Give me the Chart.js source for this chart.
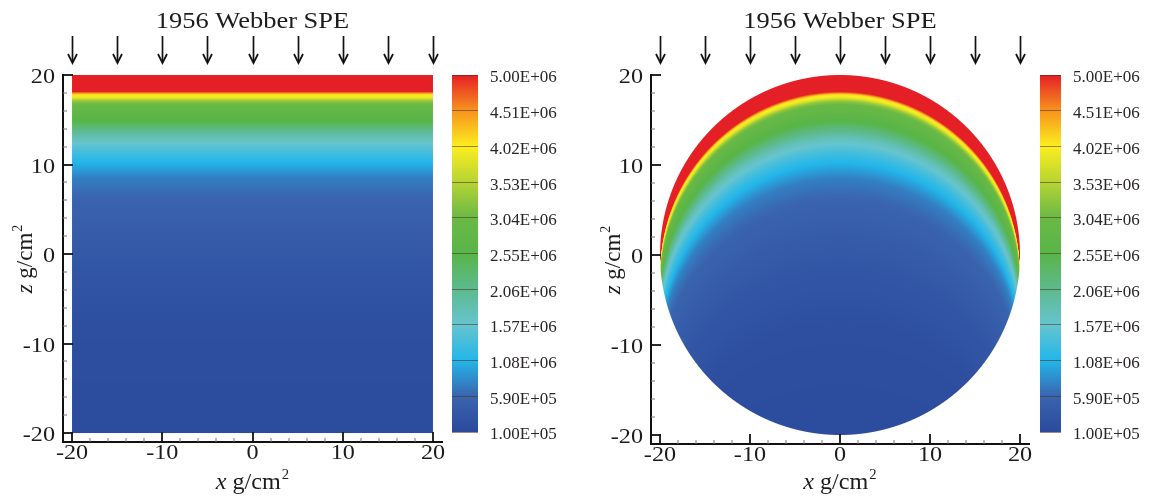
<!DOCTYPE html>
<html><head><meta charset="utf-8">
<script src="https://cdn.jsdelivr.net/npm/chart.js@4.4.1/dist/chart.umd.min.js"></script>
<style>
html,body{margin:0;padding:0;background:#fff;}
#wrap{position:relative;width:1153px;height:496px;overflow:hidden;background:#fff;}
canvas{position:absolute;top:0;}
</style></head><body>
<div id="wrap">
<canvas id="slab" width="445" height="496" style="left:0px;width:445px;height:496px"></canvas>
<canvas id="slabBar" width="130" height="496" style="left:440px;width:130px;height:496px"></canvas>
<canvas id="sphere" width="450" height="496" style="left:590px;width:450px;height:496px"></canvas>
<canvas id="sphereBar" width="125" height="496" style="left:1028px;width:125px;height:496px"></canvas>
</div>
<script>
// ---------------- data ----------------
const chartTitle = '1956 Webber SPE';
const xTickValues = [-20,-18,-16,-14,-12,-10,-8,-6,-4,-2,0,2,4,6,8,10,12,14,16,18,20];
const zTickValues = [-20,-18,-16,-14,-12,-10,-8,-6,-4,-2,0,2,4,6,8,10,12,14,16,18,20];
const majorTicks = [-20,-10,0,10,20];
const arrowX = [-20,-15,-10,-5,0,5,10,15,20];
const halfWidth = 20;      // g/cm2, slab half width / sphere radius
// depth below the irradiated top surface (g/cm2) and the dose read at that depth
const depthGcm2   = [0, 1.85, 2.0, 2.15, 2.55, 2.9, 3.3, 5.1, 7.0, 8.5, 9.9, 11.5, 14.1, 20.8, 27.5, 34, 40];
const doseProfile = [5.3e6, 5.0e6, 4.6e6, 4.15e6, 3.85e6, 3.3e6, 3.0e6, 2.55e6, 1.75e6, 1.35e6, 1.05e6, 7.5e5, 5.6e5, 3.5e5, 2.0e5, 1.5e5, 1.3e5];
// colour bar levels and colours
const cbLevels = [1.00e5, 5.90e5, 1.08e6, 1.57e6, 2.06e6, 2.55e6, 3.04e6, 3.53e6, 4.02e6, 4.51e6, 5.00e6];
const cbColors = ['#2b4a9c', '#3a64af', '#22b6ea', '#66c4cf', '#5dba8e', '#58b548', '#6ab945', '#b6d433', '#fcee1f', '#f7941d', '#e41f26'];

// ---------------- helpers ----------------
const SERIF = '"Liberation Serif", "Times New Roman", serif';
const INK = '#1e1b1c';
function hexToRgb(h){ return [parseInt(h.slice(1,3),16), parseInt(h.slice(3,5),16), parseInt(h.slice(5,7),16)]; }
const cbRgb = cbColors.map(hexToRgb);
function colorFor(v){
  const n = cbLevels.length;
  if (v <= cbLevels[0]) return cbRgb[0];
  if (v >= cbLevels[n-1]) return cbRgb[n-1];
  let i = 0; while (v > cbLevels[i+1]) i++;
  const t = (v - cbLevels[i]) / (cbLevels[i+1] - cbLevels[i]);
  return [0,1,2].map(k => Math.round(cbRgb[i][k] + (cbRgb[i+1][k] - cbRgb[i][k]) * t));
}
function doseAt(d){
  const n = depthGcm2.length;
  if (d <= depthGcm2[0]) return doseProfile[0];
  if (d >= depthGcm2[n-1]) return doseProfile[n-1];
  let i = 0; while (d > depthGcm2[i+1]) i++;
  const t = (d - depthGcm2[i]) / (depthGcm2[i+1] - depthGcm2[i]);
  return doseProfile[i] + (doseProfile[i+1] - doseProfile[i]) * t;
}
function fmtE(v){
  let e = Math.floor(Math.log10(v)); let m = v / Math.pow(10, e);
  if (Math.round(m*100) >= 1000) { e += 1; m = v / Math.pow(10, e); }
  return m.toFixed(2) + 'E+' + String(e).padStart(2, '0');
}
function stext(ctx, str, x, y, size, align, sx, baseline){
  ctx.save(); ctx.font = size + 'px ' + SERIF; ctx.fillStyle = INK;
  ctx.translate(x, y); ctx.scale(sx, 1);
  ctx.textAlign = align; ctx.textBaseline = baseline || 'alphabetic';
  ctx.fillText(str, 0, 0); ctx.restore();
}
function unitLabel(ctx, name, size){
  const fI = 'italic ' + size + 'px ' + SERIF, fR = size + 'px ' + SERIF, fS = Math.round(size*0.6) + 'px ' + SERIF;
  ctx.fillStyle = INK; ctx.textAlign = 'left'; ctx.textBaseline = 'alphabetic';
  ctx.font = fI; const w1 = ctx.measureText(name).width;
  ctx.font = fR; const w2 = ctx.measureText(' g/cm').width;
  ctx.font = fS; const w3 = ctx.measureText('2').width;
  let x = -(w1 + w2 + w3 + 1) / 2;
  ctx.font = fI; ctx.fillText(name, x, 0); x += w1;
  ctx.font = fR; ctx.fillText(' g/cm', x, 0); x += w2 + 1;
  ctx.font = fS; ctx.fillText('2', x, -size*0.42);
}

// ---------------- field plugin ----------------
const fieldPlugin = {
  id: 'field',
  beforeDatasetsDraw(chart, args, opts){
    const {ctx, scales:{x:xs, y:ys}} = chart;
    const R = halfWidth;
    const x0 = Math.floor(xs.getPixelForValue(-R)) - 1, x1 = Math.ceil(xs.getPixelForValue(R)) + 1;
    const y0 = Math.floor(ys.getPixelForValue(R)) - 1, y1 = Math.ceil(ys.getPixelForValue(-R)) + 1;
    const w = x1 - x0, h = y1 - y0;
    const off = document.createElement('canvas'); off.width = w; off.height = h;
    const octx = off.getContext('2d'); const img = octx.createImageData(w, h); const D = img.data;
    const ppx = Math.abs(xs.getPixelForValue(1) - xs.getPixelForValue(0));
    const ppy = Math.abs(ys.getPixelForValue(1) - ys.getPixelForValue(0));
    const clamp = v => Math.max(0, Math.min(1, v));
    for (let j = 0; j < h; j++){
      const z = ys.getValueForPixel(y0 + j + 0.5);
      for (let i = 0; i < w; i++){
        const x = xs.getValueForPixel(x0 + i + 0.5);
        let cov, depth;
        if (opts.shape === 'sphere'){
          const r = Math.hypot(x, z);
          cov = clamp((R - r) * ppx + 0.5);
          depth = Math.sqrt(Math.max(0, R*R - x*x)) - z;
        } else {
          cov = clamp((R - Math.abs(x)) * ppx + 0.5) * clamp((R - Math.abs(z)) * ppy + 0.5);
          depth = R - z;
        }
        if (cov <= 0) continue;
        const c = colorFor(doseAt(Math.max(0, depth)));
        const k = (j * w + i) * 4;
        D[k] = c[0]; D[k+1] = c[1]; D[k+2] = c[2]; D[k+3] = Math.round(cov * 255);
      }
    }
    octx.putImageData(img, 0, 0);
    ctx.drawImage(off, x0, y0);
  },
  afterDraw(chart, args, opts){
    const {ctx, chartArea:a, scales:{x:xs, y:ys}} = chart;
    ctx.save();
    // inward tick marks
    xTickValues.forEach(v => {
      const major = majorTicks.includes(v); const p = Math.round(xs.getPixelForValue(v));
      ctx.lineWidth = major ? 1.8 : 1; ctx.strokeStyle = major ? '#111' : '#777';
      ctx.beginPath(); ctx.moveTo(p, a.bottom); ctx.lineTo(p, a.bottom - (major ? 10 : 4)); ctx.stroke();
    });
    zTickValues.forEach(v => {
      const major = majorTicks.includes(v); const p = Math.round(ys.getPixelForValue(v));
      ctx.lineWidth = major ? 1.8 : 1; ctx.strokeStyle = major ? '#111' : '#777';
      ctx.beginPath(); ctx.moveTo(a.left, p); ctx.lineTo(a.left + (major ? 10 : 4), p); ctx.stroke();
    });
    // tick labels
    majorTicks.forEach(v => {
      stext(ctx, String(v), xs.getPixelForValue(v), a.bottom + 17, 22, 'center', 1.1);
      stext(ctx, String(v), a.left - 8, ys.getPixelForValue(v) + 8, 22, 'right', 1.1);
    });
    // title
    const cx = xs.getPixelForValue(0);
    stext(ctx, chartTitle, cx, 28, 23, 'center', 1.15);
    // arrows
    ctx.strokeStyle = '#111'; ctx.lineWidth = 1.7; ctx.lineCap = 'butt';
    arrowX.forEach(v => {
      const p = Math.round(xs.getPixelForValue(v)) + 0.5;
      ctx.beginPath(); ctx.moveTo(p, 36); ctx.lineTo(p, 62); ctx.stroke();
      ctx.beginPath(); ctx.moveTo(p - 4.5, 54); ctx.lineTo(p, 63); ctx.lineTo(p + 4.5, 54); ctx.stroke();
    });
    // axis titles
    ctx.save(); ctx.translate(cx, 489); ctx.scale(1.05, 1); unitLabel(ctx, 'x', 23); ctx.restore();
    ctx.save(); ctx.translate(a.left - 31, ys.getPixelForValue(0) + 5); ctx.rotate(-Math.PI/2); unitLabel(ctx, 'z', 23); ctx.restore();
    ctx.restore();
  }
};

function fieldChart(id, shape, padRight, yAxisWidth, xAxisHeight){
  return new Chart(document.getElementById(id), {
    type: 'scatter',
    data: { datasets: [] },
    plugins: [fieldPlugin],
    options: {
      responsive: false, animation: false, events: [],
      layout: { padding: { left: 0, top: 75, right: padRight, bottom: 0 } },
      plugins: { legend: { display: false }, tooltip: { enabled: false }, field: { shape } },
      scales: {
        x: { type: 'linear', min: -21, max: 21,
             afterBuildTicks: s => { s.ticks = xTickValues.map(v => ({ value: v })); },
             ticks: { display: false }, grid: { display: false, drawTicks: false },
             border: { display: true, color: '#111', width: 2 },
             afterFit: s => { s.height = xAxisHeight; } },
        y: { type: 'linear', min: -21, max: 20,
             afterBuildTicks: s => { s.ticks = zTickValues.map(v => ({ value: v })); },
             ticks: { display: false }, grid: { display: false, drawTicks: false },
             border: { display: true, color: '#111', width: 2 },
             afterFit: s => { s.width = yAxisWidth; } }
      }
    }
  });
}

function colorBar(id){
  return new Chart(document.getElementById(id), {
    type: 'bar',
    data: { labels: ['dose'], datasets: [{
      data: [[cbLevels[0], cbLevels[cbLevels.length-1]]],
      barPercentage: 1, categoryPercentage: 1, borderWidth: 0,
      backgroundColor: c => {
        const ch = c.chart; if (!ch.chartArea) return cbColors[0];
        const ys = ch.scales.y;
        const g = ch.ctx.createLinearGradient(0, ys.getPixelForValue(cbLevels[0]), 0, ys.getPixelForValue(cbLevels[cbLevels.length-1]));
        const span = cbLevels[cbLevels.length-1] - cbLevels[0];
        cbLevels.forEach((v, i) => g.addColorStop((v - cbLevels[0]) / span, cbColors[i]));
        return g;
      }
    }]},
    options: {
      responsive: false, animation: false, events: [],
      layout: { padding: { left: 12, top: 75, right: 0, bottom: 64 } },
      plugins: { legend: { display: false }, tooltip: { enabled: false } },
      scales: {
        x: { display: false },
        y: { position: 'right', min: cbLevels[0], max: cbLevels[cbLevels.length-1],
             afterBuildTicks: s => { s.ticks = cbLevels.map(v => ({ value: v })); },
             ticks: { autoSkip: false, padding: 12, labelOffset: 3, color: '#2a2627',
                      font: { family: SERIF, size: 17 }, callback: v => fmtE(v) },
             grid: { drawOnChartArea: true, drawTicks: false, color: 'rgba(80,45,25,0.55)', lineWidth: 1, z: 1 },
             border: { display: false },
             afterFit: s => { s.width = 92; } }
      }
    }
  });
}

fieldChart('slab', 'slab', 3, 63, 54);
colorBar('slabBar');
fieldChart('sphere', 'sphere', 11, 61, 52);
colorBar('sphereBar');
</script>
</body></html>
